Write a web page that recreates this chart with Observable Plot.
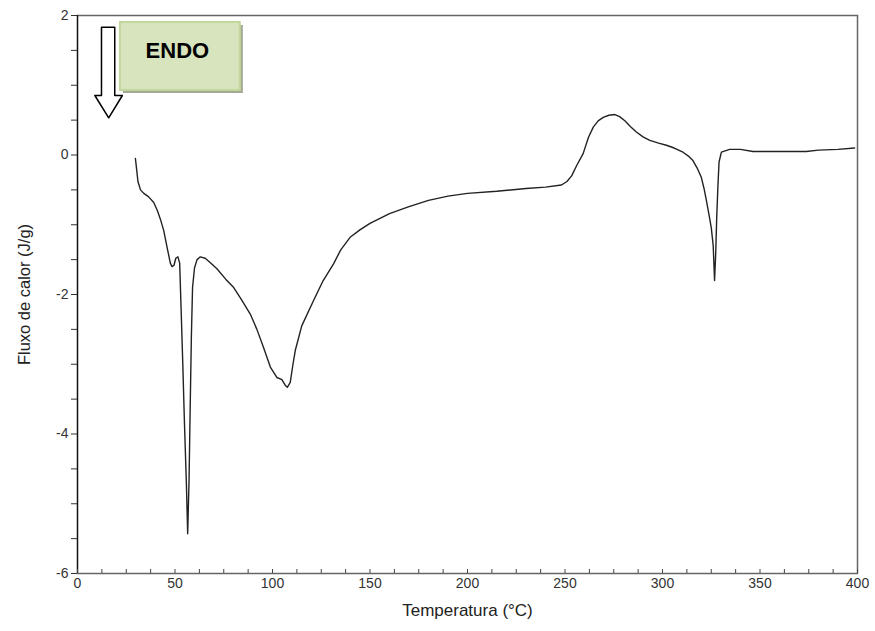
<!DOCTYPE html>
<html>
<head>
<meta charset="utf-8">
<script src="https://cdn.jsdelivr.net/npm/d3@7"></script>
<script src="https://cdn.jsdelivr.net/npm/@observablehq/plot@0.6"></script>
<style>
  html, body { margin: 0; padding: 0; background: #fff; }
  svg { display: block; }
</style>
</head>
<body>
<div id="chart"></div>
<script>
const temps = [29.7,30.3,31.0,32.3,34.0,36.5,39.1,41.0,42.5,44.2,46.0,47.6,48.5,49.5,50.4,51.5,52.4,53.1,54.0,54.8,55.8,56.5,57.2,57.8,58.4,59.0,60.0,61.3,63.0,65.5,68.0,71.5,76.0,80.1,84.0,88.6,92.0,95.4,98.9,102.3,104.8,106.5,107.6,109.1,110.5,111.7,115.0,121.0,126.0,131.3,135.0,139.8,145.0,150.0,160.0,170.0,180.0,190.0,200.0,215.0,230.0,240.0,248.2,251.0,253.4,256.0,259.3,262.0,264.5,267.0,269.6,272.5,275.6,278.0,280.7,283.5,286.6,290.0,293.5,298.0,302.0,306.0,310.5,313.5,315.6,318.0,319.9,321.3,322.5,324.0,325.0,326.0,326.7,327.3,327.8,328.4,329.0,330.2,334.4,340.0,346.4,360.0,373.7,380.0,390.0,398.5];
const flux = [-0.05,-0.20,-0.38,-0.50,-0.55,-0.60,-0.68,-0.80,-0.92,-1.08,-1.33,-1.55,-1.60,-1.58,-1.48,-1.46,-1.55,-2.18,-3.00,-3.80,-4.67,-5.43,-4.67,-3.60,-2.60,-1.90,-1.62,-1.50,-1.46,-1.48,-1.54,-1.63,-1.78,-1.90,-2.07,-2.28,-2.50,-2.76,-3.04,-3.19,-3.22,-3.30,-3.33,-3.26,-3.00,-2.80,-2.45,-2.09,-1.80,-1.56,-1.36,-1.18,-1.07,-0.98,-0.84,-0.74,-0.65,-0.59,-0.55,-0.52,-0.48,-0.46,-0.43,-0.38,-0.30,-0.15,0.02,0.25,0.40,0.49,0.54,0.57,0.58,0.55,0.49,0.41,0.33,0.26,0.21,0.17,0.14,0.10,0.04,-0.02,-0.08,-0.20,-0.32,-0.48,-0.65,-0.88,-1.04,-1.30,-1.80,-1.40,-0.90,-0.46,-0.10,0.04,0.08,0.08,0.05,0.05,0.05,0.07,0.08,0.10];

const xTickLabels = [0,50,100,150,200,250,300,350,400];
const xMinorTicks = d3.range(0, 400.01, 12.5);
const yTicks = d3.range(-6, 2.01, 0.5);
const yTickLabels = [-6,-4,-2,0,2];

const xTitle = "Temperatura (°C)";
const yTitle = "Fluxo de calor (J/g)";
const annotationText = "ENDO";

// annotation geometry in data units
const endoBox = [{x1: 22.0, x2: 83.5, y1: 0.925, y2: 1.90}];
const arrowX = [12.3, 19.1, 19.1, 23.0, 16.0, 8.9, 12.3, 12.3];
const arrowY = [1.83, 1.83, 0.853, 0.853, 0.533, 0.853, 0.853, 1.83];

const series = temps.map((t, i) => ({t, f: flux[i]}));
const arrow = arrowX.map((x, i) => ({x, y: arrowY[i]}));

const font = "'Liberation Sans Narrow', 'Liberation Sans', Arial, sans-serif";
const fontReg = "'Liberation Sans', Arial, sans-serif";

const chart = Plot.plot({
  width: 875,
  height: 631,
  marginLeft: 77,
  marginRight: 18,
  marginTop: 15,
  marginBottom: 58,
  style: {fontFamily: fontReg, fontSize: "14px", color: "#333", background: "#fff"},
  x: {domain: [0, 400], axis: null},
  y: {domain: [-6, 2], axis: null},
  marks: [
    Plot.frame({stroke: "#666", strokeWidth: 1.5}),
    Plot.ruleX([0], {stroke: "#111", strokeWidth: 1.2}),
    Plot.ruleY(yTicks, {y: d => d, x1: 0, x2: 0, insetLeft: -6, stroke: "#333"}),
    Plot.text(yTickLabels, {y: d => d, frameAnchor: "left", dx: -9, textAnchor: "end", text: d => String(d), fontSize: 14, fill: "#333", fontFamily: fontReg}),
    Plot.ruleX(xMinorTicks, {x: d => d, y1: -6, y2: -6, insetTop: -4, stroke: "#444"}),
    Plot.text(xTickLabels, {x: d => d, frameAnchor: "bottom", dy: 14, text: d => String(d), fontSize: 14, fill: "#333", fontFamily: fontReg}),
    Plot.text([yTitle], {frameAnchor: "left", dx: -53, rotate: -90, textAnchor: "middle", fontSize: 16.5, fill: "#222", fontFamily: fontReg}),
    Plot.text([xTitle], {frameAnchor: "bottom", dy: 42, textAnchor: "middle", fontSize: 17, fill: "#222", fontFamily: font}),
    Plot.line(series, {x: "t", y: "f", stroke: "#222", strokeWidth: 1.4, curve: "linear"}),
    Plot.rect(endoBox, {x1: "x1", x2: "x2", y1: "y1", y2: "y2", dx: 3, dy: 3, fill: "#a3a893"}),
    Plot.rect(endoBox, {x1: "x1", x2: "x2", y1: "y1", y2: "y2", fill: "#d7e4bd", stroke: "#c3d69b", strokeWidth: 2}),
    Plot.text(endoBox, {x: d => (d.x1 + d.x2) / 2, y: d => (d.y1 + d.y2) / 2, dx: -3, dy: -6, text: () => annotationText, fontSize: 22, fontWeight: "bold", fill: "#000", fontFamily: fontReg}),
    Plot.line(arrow, {x: "x", y: "y", stroke: "#000", strokeWidth: 1.5, fill: "#fff", curve: "linear"})
  ]
});
document.getElementById("chart").appendChild(chart);
</script>
</body>
</html>
